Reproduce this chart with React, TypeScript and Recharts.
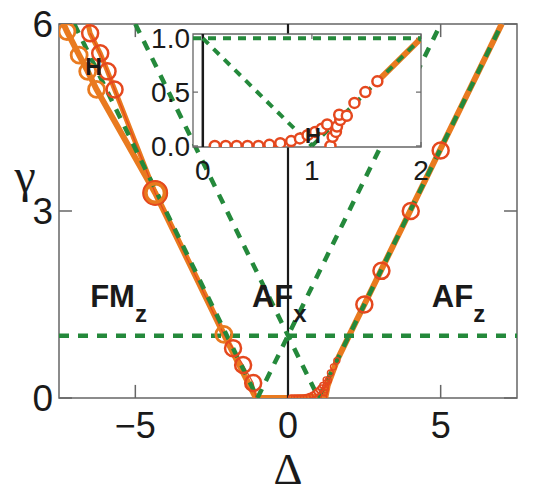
import React from "react";
import { ComposedChart, Line, XAxis, YAxis, ReferenceLine, ReferenceArea, ReferenceDot, CartesianGrid, Label } from "recharts";

// main panel: gamma_3 vs Delta
const mainXTicks = [-5, 0, 5];
const mainYTicks = [0, 3, 6];

const greenLevel = [{ x: -7.5, y: 1 }, { x: 7.5, y: 1 }];
const greenFmEdge = [{ x: -7, y: 6 }, { x: -1, y: 0 }];
const greenLeftV = [{ x: -5, y: 6 }, { x: 1, y: 0 }];
const greenRightV = [{ x: -1, y: 0 }, { x: 5, y: 6 }];
const greenAfEdge = [{ x: 1, y: 0 }, { x: 7, y: 6 }];

const orangeOuter = [
  { x: -7.35, y: 6 }, { x: -7.24, y: 5.88 }, { x: -6.84, y: 5.5 }, { x: -6.56, y: 5.24 },
  { x: -6.27, y: 4.95 }, { x: -4.35, y: 3.29 }, { x: -2.1, y: 1.02 }, { x: -1.05, y: 0 },
  { x: 0, y: 0 }, { x: 0.8, y: 0.02 }, { x: 1.15, y: 0.02 }, { x: 1.22, y: 0 },
  { x: 1.3, y: 0.2 }, { x: 1.6, y: 0.6 }, { x: 7, y: 6 },
];
const orangeInner = [
  { x: -6.55, y: 6 }, { x: -6.48, y: 5.85 }, { x: -6.15, y: 5.53 }, { x: -5.91, y: 5.24 },
  { x: -5.68, y: 4.95 }, { x: -4.35, y: 3.29 },
];
const redTrace = [
  { x: -6.48, y: 5.85 }, { x: -6.15, y: 5.53 }, { x: -5.91, y: 5.24 }, { x: -5.68, y: 4.95 },
  { x: -4.35, y: 3.29 }, { x: -2.1, y: 1.02 }, { x: -1.8, y: 0.8 }, { x: -1.47, y: 0.53 },
  { x: -1.14, y: 0.24 }, { x: -1.05, y: 0 },
];
const orangeRings = [
  { x: -7.24, y: 5.88 }, { x: -6.84, y: 5.5 }, { x: -6.56, y: 5.24 }, { x: -6.27, y: 4.95 },
  { x: -2.1, y: 1.02 },
];
const bigRing = [{ x: -4.35, y: 3.29 }];
const redRings = [
  { x: -6.48, y: 5.85 }, { x: -6.15, y: 5.53 }, { x: -5.91, y: 5.24 }, { x: -5.68, y: 4.95 },
  { x: -1.8, y: 0.8 }, { x: -1.47, y: 0.53 }, { x: -1.14, y: 0.24 },
  { x: 2.5, y: 1.5 }, { x: 3.06, y: 2.04 }, { x: 4.02, y: 3.0 }, { x: 5.0, y: 3.97 },
];

// inset: zoom near the AF_x / AF_z transition
const insetXTicks = [0, 1, 2];
const insetYTicks = [0, 0.5, 1];
const insetRed = [
  { x: 0.11, y: 0 }, { x: 0.21, y: 0 }, { x: 0.31, y: 0 }, { x: 0.41, y: 0 },
  { x: 0.51, y: 0 }, { x: 0.61, y: 0.01 }, { x: 0.71, y: 0.025 }, { x: 0.81, y: 0.045 },
  { x: 0.89, y: 0.07 }, { x: 0.96, y: 0.1 }, { x: 1.03, y: 0.13 }, { x: 1.09, y: 0.16 },
  { x: 1.14, y: 0.2 }, { x: 1.17, y: 0.0 }, { x: 1.19, y: 0.085 }, { x: 1.22, y: 0.13 },
  { x: 1.23, y: 0.18 }, { x: 1.26, y: 0.24 }, { x: 1.25, y: 0.29 }, { x: 1.32, y: 0.28 },
  { x: 1.39, y: 0.4 }, { x: 1.49, y: 0.5 }, { x: 1.6, y: 0.6 },
];
const insetOrange = [{ x: 1.6, y: 0.6 }, { x: 2, y: 1 }];
const insetGreenTop = [{ x: -0.09, y: 1 }, { x: 2, y: 1 }];
const insetGreenDown = [{ x: 0, y: 1 }, { x: 1, y: 0 }];
const insetGreenUp = [{ x: 1, y: 0 }, { x: 2, y: 1 }];

const SANS = '"Liberation Sans", Arial, Helvetica, sans-serif';
const SERIF = '"Liberation Serif", "Times New Roman", serif';
const GREEN = "#24893b";
const ORANGE = "#e97a1f";
const RED = "#e5481e";
const INK = "#1a1a1a";
const FRAME = "#666";

const fmtMinus = (v: number) => (v < 0 ? "\u2212" + Math.abs(v) : String(v));

const phaseLabel = (main: string, sub: string) => (p: any) => (
  <text x={p.cx} y={p.cy} fontFamily={SANS} fontWeight={700} fontSize={31} fill={INK}>
    {main}
    <tspan fontSize={24} dy={15}>{sub}</tspan>
  </text>
);

const hLabel = (size: number) => (p: any) => (
  <text x={p.cx} y={p.cy} dy={size * 0.36} textAnchor="middle" fontFamily={SANS} fontWeight={700} fontSize={size} fill={INK}>
    H
  </text>
);

const gammaLabel = (props: any) => {
  const vb = props.viewBox ?? { x: 0, y: 24, width: 59, height: 374 };
  return (
    <text x={vb.x + 25} y={vb.y + vb.height / 2 - 19} textAnchor="middle" fontFamily={SERIF} fontSize={48} fill={INK}>
      γ
    </text>
  );
};

const App = () => {
  const dash = { strokeDasharray: "10 9", strokeWidth: 4.5, stroke: GREEN };
  const idash = { strokeDasharray: "8 7", strokeWidth: 4, stroke: GREEN };
  return (
    <div style={{ position: "absolute", left: 0, top: 0, width: 550, height: 496 }}>
      <div style={{ position: "absolute", left: 0, top: 0 }}>
        <ComposedChart width={550} height={496} margin={{ top: 24, right: 33, bottom: 0, left: 0 }}>
          <XAxis type="number" dataKey="x" domain={[-7.5, 7.5]} ticks={mainXTicks} interval={0}
            tickFormatter={fmtMinus} tickSize={0} tickMargin={14} tickLine={false} axisLine={false}
            height={98} allowDataOverflow
            tick={{ fontSize: 36, fill: INK, fontFamily: SANS }}
            label={{ value: "Δ", position: "insideBottom", offset: 12, fontSize: 45, fontFamily: SERIF, fill: INK }} />
          <YAxis type="number" dataKey="y" domain={[0, 6]} ticks={mainYTicks} interval={0}
            tickSize={0} tickMargin={6} tickLine={false} axisLine={false} width={59} allowDataOverflow
            tick={{ fontSize: 37, fill: INK, fontFamily: SANS }}>
            <Label content={gammaLabel} />
          </YAxis>

          <ReferenceArea x1={-7.5} x2={7.5} y1={0} y2={6} fill="none" stroke={FRAME} strokeWidth={1.5} ifOverflow="visible" />
          {mainXTicks.map((v) => (
            <ReferenceLine key={`bx${v}`} segment={[{ x: v, y: 0 }, { x: v, y: 0.21 }]} stroke={FRAME} strokeWidth={1.5} ifOverflow="visible" />
          ))}
          {mainXTicks.map((v) => (
            <ReferenceLine key={`tx${v}`} segment={[{ x: v, y: 6 }, { x: v, y: 5.79 }]} stroke={FRAME} strokeWidth={1.5} ifOverflow="visible" />
          ))}
          {mainYTicks.map((v) => (
            <ReferenceLine key={`ly${v}`} segment={[{ x: -7.5, y: v }, { x: -7.075, y: v }]} stroke={FRAME} strokeWidth={1.5} ifOverflow="visible" />
          ))}
          {mainYTicks.map((v) => (
            <ReferenceLine key={`ry${v}`} segment={[{ x: 7.5, y: v }, { x: 7.075, y: v }]} stroke={FRAME} strokeWidth={1.5} ifOverflow="visible" />
          ))}

          <Line data={orangeOuter} dataKey="y" stroke={ORANGE} strokeWidth={6} dot={false} isAnimationActive={false} />
          <Line data={orangeInner} dataKey="y" stroke={ORANGE} strokeWidth={5} dot={false} isAnimationActive={false} />
          <Line data={redTrace} dataKey="y" stroke={RED} strokeWidth={1.2} dot={false} isAnimationActive={false} />
          <Line data={orangeRings} dataKey="y" stroke="none" isAnimationActive={false}
            dot={{ r: 8, stroke: ORANGE, strokeWidth: 2.8, fill: "none" }} />
          <Line data={bigRing} dataKey="y" stroke="none" isAnimationActive={false}
            dot={{ r: 10, stroke: ORANGE, strokeWidth: 5, fill: "none" }} />
          <Line data={bigRing} dataKey="y" stroke="none" isAnimationActive={false}
            dot={{ r: 12, stroke: RED, strokeWidth: 2, fill: "none" }} />
          <Line data={redRings} dataKey="y" stroke="none" isAnimationActive={false}
            dot={{ r: 8, stroke: RED, strokeWidth: 2.5, fill: "none" }} />
          <Line data={insetRed} dataKey="y" stroke="none" isAnimationActive={false}
            dot={{ r: 3, stroke: RED, strokeWidth: 1.4, fill: "none" }} />

          <ReferenceLine segment={[{ x: 0, y: 0 }, { x: 0, y: 6 }]} stroke={INK} strokeWidth={2.2} />

          <Line data={greenLevel} dataKey="y" {...dash} dot={false} isAnimationActive={false} />
          <Line data={greenFmEdge} dataKey="y" {...dash} dot={false} isAnimationActive={false} />
          <Line data={greenLeftV} dataKey="y" {...dash} dot={false} isAnimationActive={false} />
          <Line data={greenRightV} dataKey="y" {...dash} dot={false} isAnimationActive={false} />
          <Line data={greenAfEdge} dataKey="y" {...dash} dot={false} isAnimationActive={false} />

          <ReferenceDot x={-6.48} y={1.46} r={0} ifOverflow="visible" shape={phaseLabel("FM", "z")} />
          <ReferenceDot x={-1.18} y={1.46} r={0} ifOverflow="visible" shape={phaseLabel("AF", "x")} />
          <ReferenceDot x={4.71} y={1.46} r={0} ifOverflow="visible" shape={phaseLabel("AF", "z")} />
          <ReferenceDot x={-6.37} y={5.32} r={0} ifOverflow="visible" shape={hLabel(23)} />
        </ComposedChart>
      </div>

      <div style={{ position: "absolute", left: 0, top: 0 }}>
        <ComposedChart width={550} height={496} margin={{ top: 34, right: 129, bottom: 0, left: 0 }}>
          <CartesianGrid fill="#fff" horizontal={false} vertical={false} />
          <XAxis type="number" dataKey="x" domain={[-0.09, 2]} ticks={insetXTicks} interval={0}
            tickSize={0} tickMargin={13} tickLine={false} axisLine={false} height={349} allowDataOverflow
            tick={{ fontSize: 28, fill: INK, fontFamily: SANS }} />
          <YAxis type="number" dataKey="y" domain={[-0.01, 1.04]} ticks={insetYTicks} interval={0}
            tickFormatter={(v: number) => v.toFixed(1)}
            tickSize={0} tickMargin={3} tickLine={false} axisLine={false} width={193} allowDataOverflow
            tick={{ fontSize: 28, fill: INK, fontFamily: SANS }} />

          <ReferenceArea x1={-0.09} x2={2} y1={-0.01} y2={1.04} fill="none" stroke={FRAME} strokeWidth={1.3} ifOverflow="visible" />
          {insetXTicks.map((v) => (
            <ReferenceLine key={`ib${v}`} segment={[{ x: v, y: -0.01 }, { x: v, y: 0.036 }]} stroke={FRAME} strokeWidth={1.2} ifOverflow="visible" />
          ))}
          {insetXTicks.map((v) => (
            <ReferenceLine key={`it${v}`} segment={[{ x: v, y: 1.04 }, { x: v, y: 0.994 }]} stroke={FRAME} strokeWidth={1.2} ifOverflow="visible" />
          ))}
          {insetYTicks.map((v) => (
            <ReferenceLine key={`il${v}`} segment={[{ x: -0.09, y: v }, { x: -0.044, y: v }]} stroke={FRAME} strokeWidth={1.2} ifOverflow="visible" />
          ))}
          {insetYTicks.map((v) => (
            <ReferenceLine key={`ir${v}`} segment={[{ x: 2, y: v }, { x: 1.954, y: v }]} stroke={FRAME} strokeWidth={1.2} ifOverflow="visible" />
          ))}

          <Line data={insetOrange} dataKey="y" stroke={ORANGE} strokeWidth={6} dot={false} isAnimationActive={false} />
          <ReferenceLine segment={[{ x: 0, y: -0.01 }, { x: 0, y: 1.04 }]} stroke={INK} strokeWidth={2.5} />
          <Line data={insetGreenTop} dataKey="y" {...idash} dot={false} isAnimationActive={false} />
          <Line data={insetGreenDown} dataKey="y" {...idash} dot={false} isAnimationActive={false} />
          <Line data={insetGreenUp} dataKey="y" {...idash} dot={false} isAnimationActive={false} />
          <Line data={insetRed} dataKey="y" stroke="none" isAnimationActive={false}
            dot={{ r: 5, stroke: RED, strokeWidth: 2.5, fill: "#fff" }} />
          <ReferenceDot x={1.01} y={0.1} r={0} ifOverflow="visible" shape={hLabel(22)} />
        </ComposedChart>
      </div>
    </div>
  );
};

export default App;
